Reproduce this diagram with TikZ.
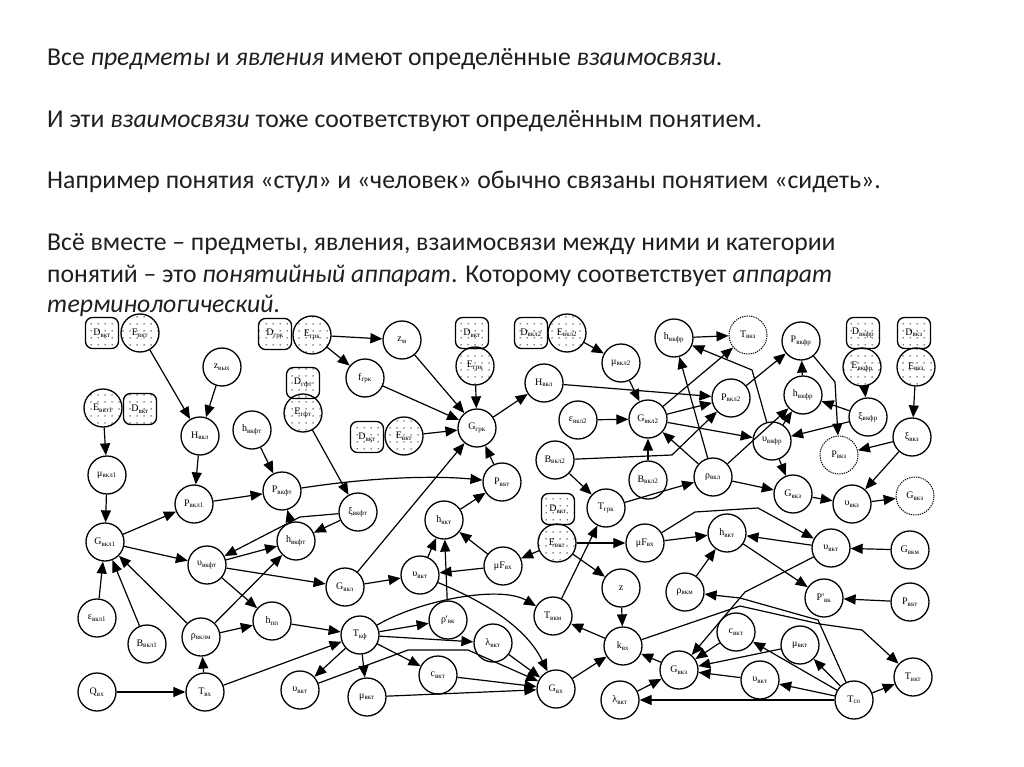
\documentclass[tikz,border=0pt]{standalone}
\usepackage{fontspec}
\setmainfont{Carlito}
\newfontfamily\lbl{Liberation Serif}
\usetikzlibrary{arrows.meta,patterns.meta}
\newcommand\sbs[1]{\textsubscript{#1}}
\begin{document}
\begin{tikzpicture}[x=1pt,y=-1pt,
  cn/.style={circle,draw,line width=1.3pt,minimum size=38pt,inner sep=0pt,font=\lbl\fontsize{10}{10}\selectfont},
  dc/.style={cn,pattern={Dots[distance=6.5pt,radius=0.7pt]}},
  db/.style={rectangle,rounded corners=7pt,draw,line width=1.3pt,minimum width=33pt,minimum height=31pt,inner sep=0pt,font=\lbl\fontsize{10}{10}\selectfont,pattern={Dots[distance=6.5pt,radius=0.7pt]}},
  lc/.style={cn,densely dotted,line width=1pt},
  ar/.style={-{Triangle[length=12pt,width=10pt]},line width=1.2pt},
  txt/.style={anchor=base west,font=\fontsize{25.7}{31}\selectfont,inner sep=0pt,text=black!88}]
\path[use as bounding box,fill=white] (0,0) rectangle (1024,767);
% text
\node[txt] (t1) at (47,66) {Все \textit{предметы} и \textit{явления} имеют определённые \textit{взаимосвязи}.};
\node[txt] (t2) at (47,128) {И эти \textit{взаимосвязи} тоже соответствуют определённым понятием.};
\node[txt] (t3) at (47,189) {Например понятия «стул» и «человек» обычно связаны понятием «сидеть».};
\node[txt] (t4) at (47,251) {Всё вместе – предметы, явления, взаимосвязи между ними и категории};
\node[txt] (t5) at (47,282) {понятий – это \textit{понятийный аппарат}. Которому соответствует \textit{аппарат}};
\node[txt] (t6) at (47,312) {\textit{терминологический}.};
% nodes left
\node[db] (D1) at (102,333) {D\sbs{вкт}};
\node[dc] (E1) at (140,333) {E\sbs{вкт}};
\node[cn] (zvy) at (222,367) {z\sbs{вых}};
\node[dc] (E2) at (103,408) {E\sbs{вкт1}};
\node[db] (D2) at (140,409) {D\sbs{вкт}};
\node[cn] (Hvk1) at (200,436) {H\sbs{вкл}};
\node[cn] (hvkft) at (252,430) {h\sbs{вкфт}};
\node[cn] (mu1) at (107,475) {μ\sbs{вкл1}};
\node[cn] (P1) at (194,504) {P\sbs{вкл1}};
\node[cn] (Pft) at (282,491) {P\sbs{вкфт}};
\node[cn] (G1) at (105,542) {G\sbs{вкл1}};
\node[cn] (uft) at (207,565) {υ\sbs{вкфт}};
\node[cn] (hft2) at (296,541) {h\sbs{вкфт}};
\node[cn] (xift) at (358,512) {ξ\sbs{вкфт}};
\node[cn] (Gmid) at (345,587) {G\sbs{вкл}};
\node[cn] (hpp) at (272,621) {h\sbs{пп}};
\node[cn] (eps1) at (97,618) {ε\sbs{вкл1}};
\node[cn] (B1) at (147,644) {B\sbs{вкл1}};
\node[cn] (rhom) at (201,637) {ρ\sbs{вклм}};
\node[cn] (Q) at (97,692) {Q\sbs{вх}};
\node[cn] (Tvx) at (205,692) {T\sbs{вх}};
% middle top
\node[db] (D3) at (275,334) {D\sbs{грк}};
\node[dc] (E3) at (312,335) {E\sbs{грк}};
\node[cn] (zm) at (402,340) {z\sbs{м}};
\node[cn] (fgrk) at (365,378) {f\sbs{грк}};
\node[db] (D4) at (303,383) {D\sbs{гфт}};
\node[dc] (E4) at (303,413) {E\sbs{гфт}};
\node[db] (D5) at (367,437) {D\sbs{вкт}};
\node[dc] (E5) at (404,436) {E\sbs{вкт}};
\node[cn] (Ggrk) at (477,428) {G\sbs{грк}};
\node[db] (D6) at (472,333) {D\sbs{вкт}};
\node[dc] (E6) at (475,366) {E\sbs{грк}};
\node[db] (D7) at (531,333) {D\sbs{вкл2}};
\node[dc] (E7) at (567,333) {E\sbs{вкл2}};
\node[cn] (mu2) at (621,363) {μ\sbs{вкл2}};
\node[cn] (H2) at (544,383) {H\sbs{вкл}};
\node[cn] (eps2) at (578,420) {ε\sbs{вкл2}};
\node[cn] (G2) at (648,419) {G\sbs{вкл2}};
\node[cn] (htop) at (674,338) {h\sbs{вкфр}};
\node[lc] (Tvkz) at (748,335) {T\sbs{вкз}};
\node[cn] (P2) at (731,398) {P\sbs{вкл2}};
\node[cn] (Pfr) at (801,341) {P\sbs{вкфр}};
\node[db] (D8) at (863,333) {D\sbs{вкфр}};
\node[dc] (E8) at (862,367) {E\sbs{вкфр}};
\node[db] (D9) at (914,333) {D\sbs{вкз}};
\node[dc] (E9) at (916,367) {E\sbs{вкз}};
\node[cn] (hfr) at (803,395) {h\sbs{вкфр}};
\node[cn] (xifr) at (868,417) {ξ\sbs{вкфр}};
\node[cn] (ufr) at (772,441) {υ\sbs{вкфр}};
\node[cn] (xiz) at (912,437) {ξ\sbs{вкз}};
\node[lc] (Pz) at (839,455) {P\sbs{вкз}};
\node[cn] (Bx) at (555,460) {B\sbs{вкл2}};
\node[cn] (B2) at (648,480) {B\sbs{вкл2}};
\node[cn] (rho) at (713,477) {ρ\sbs{вкл}};
\node[cn] (Tgrk) at (606,508) {T\sbs{грк}};
\node[cn] (Gz) at (793,494) {G\sbs{вкз}};
\node[cn] (uz) at (852,504) {υ\sbs{вкз}};
\node[lc] (Gz2) at (915,496) {G\sbs{вкз}};
\node[cn] (Pvkt) at (502,482) {P\sbs{вкт}};
\node[cn] (hvkt) at (444,520) {h\sbs{вкт}};
\node[cn] (muF) at (503,566) {μF\sbs{вх}};
\node[cn] (uvkt) at (420,575) {υ\sbs{вкт}};
\node[db] (D10) at (558,509) {D\sbs{вкт}};
\node[dc] (E10) at (557,543) {E\sbs{вкт}};
\node[cn] (muF2) at (645,543) {μF\sbs{вх}};
\node[cn] (hvkt2) at (727,533) {h\sbs{вкт}};
\node[cn] (uvkt2) at (831,548) {υ\sbs{вкт}};
\node[cn] (Gvkt) at (910,550) {G\sbs{вкм}};
\node[cn] (z) at (621,588) {z};
\node[cn] (rhovkm) at (685,592) {ρ\sbs{вкм}};
\node[cn] (Pp) at (824,598) {P'\sbs{вк}};
\node[cn] (Pvkt2) at (910,602) {P\sbs{вкт}};
\node[cn] (Tvkm) at (553,616) {T\sbs{вкм}};
\node[cn] (kvx) at (623,646) {k\sbs{вх}};
\node[cn] (cvkt2) at (736,632) {c\sbs{вкт}};
\node[cn] (muvkt2) at (800,645) {μ\sbs{вкт}};
\node[cn] (Gvkz3) at (679,670) {G\sbs{вкз}};
\node[cn] (Gvx) at (556,689) {G\sbs{вх}};
\node[cn] (lam2) at (620,700) {λ\sbs{вкт}};
\node[cn] (uvkt3) at (760,680) {υ\sbs{вкт}};
\node[cn] (Tvkt) at (913,677) {T\sbs{вкт}};
\node[cn] (Tco) at (854,700) {T\sbs{со}};
\node[cn] (Tkf) at (360,635) {T\sbs{кф}};
\node[cn] (rhop) at (448,620) {ρ'\sbs{вк}};
\node[cn] (lam) at (493,643) {λ\sbs{вкт}};
\node[cn] (cvkt) at (438,675) {c\sbs{вкт}};
\node[cn] (muvkt) at (367,697) {μ\sbs{вкт}};
\node[cn] (uvkt4) at (300,690) {υ\sbs{вкт}};
% edges left
\draw[ar] (E1) -- (Hvk1);
\draw[ar] (zvy) -- (Hvk1);
\draw[ar] (E2) -- (mu1);
\draw[ar] (Hvk1) -- (P1);
\draw[ar] (hvkft) -- (Pft);
\draw[ar] (mu1) -- (G1);
\draw[ar] (G1) -- (P1);
\draw[ar] (P1) -- (Pft);
\draw[ar] (G1) -- (uft);
\draw[ar] (uft) -- (hft2);
\draw[ar] (hft2) -- (Pft);
\draw[ar] (xift) -- (300,517) -- (uft);
\draw[ar] (xift) -- (hft2);
\draw[ar] (E4) -- (xift);
\draw[ar] (Pft) .. controls (380,476) and (440,476) .. (Pvkt);
\draw[ar] (uft) -- (Gmid);
\draw[ar] (uft) -- (hpp);
\draw[ar] (rhom) -- (hpp);
\draw[ar] (rhom) -- (hft2);
\draw[ar] (hpp) -- (Tkf);
\draw[ar] (Tvx) -- (rhom);
\draw[ar] (Q) -- (Tvx);
\draw[ar] (Tvx) -- (Tkf);
\draw[ar] (eps1) -- (G1);
\draw[ar] (B1) -- (G1);
\draw[ar] (rhom) -- (G1);
% top middle
\draw[ar] (E3) -- (zm);
\draw[ar] (E3) -- (fgrk);
\draw[ar] (zm) -- (Ggrk);
\draw[ar] (fgrk) -- (Ggrk);
\draw[ar] (E6) -- (Ggrk);
\draw[ar] (E5) -- (Ggrk);
\draw[ar] (Ggrk) -- (H2);
\draw[ar] (Gmid) -- (Ggrk);
\draw[ar] (Pvkt) -- (Ggrk);
\draw[ar] (H2) -- (P2);
\draw[ar] (E7) -- (mu2);
\draw[ar] (mu2) -- (G2);
\draw[ar] (eps2) -- (G2);
\draw[ar] (G2) -- (P2);
\draw[ar] (G2) -- (Tvkz);
\draw[ar] (htop) -- (Tvkz);
\draw[ar] (ufr) -- (752,370) -- (htop);
\draw[ar] (rho) -- (htop);
\draw[ar] (rho) -- (G2);
\draw[ar] (B2) -- (G2);
\draw[ar] (Bx) -- (672,455) -- (P2);
\draw[ar] (G2) -- (ufr);
\draw[ar] (P2) -- (Pfr);
\draw[ar] (Pfr) -- (835,382) -- (Pz);
\draw[ar] (hfr) -- (Pfr);
\draw[ar] (ufr) -- (hfr);
\draw[ar] (xifr) -- (hfr);
\draw[ar] (xifr) -- (ufr);
\draw[ar] (E8) -- (xifr);
\draw[ar] (E9) -- (xiz);
\draw[ar] (xiz) -- (Pz);
\draw[ar] (rho) -- (hfr);
\draw[ar] (xiz) -- (uz);
\draw[ar] (uz) -- (Gz2);
\draw[ar] (Gz) -- (uz);
\draw[ar] (rho) -- (Gz);
\draw[ar] (ufr) -- (Gz);
\draw[ar] (Tgrk) -- (660,492) -- (rho);
\draw[ar] (Bx) -- (Tgrk);
\draw[ar] (Tvkm) -- (Tgrk);
% right middle
\draw[ar] (muF2) -- (hvkt2);
\draw[ar] (E10) -- (muF2);
\draw[ar] (E10) -- (muF);
\draw[ar] (E10) -- (z);
\draw[ar] (muF2) -- (695,512) -- (758,508) -- (uvkt2);
\draw[ar] (uvkt2) -- (hvkt2);
\draw[ar] (Gvkt) -- (uvkt2);
\draw[ar] (hvkt2) -- (Pp);
\draw[ar] (Pvkt2) -- (Pp);
\draw[ar] (rhovkm) -- (hvkt2);
\draw[ar] (uvkt2) -- (745,592) -- (Gvkz3);
\draw[ar] (kvx) -- (740,606) -- (820,624) -- (862,630) -- (Tvkt);
\draw[ar] (Tco) -- (818,620) -- (740,598) -- (rhovkm);
\draw[ar] (Tco) -- (Tvkt);
\draw[ar] (Tco) -- (uvkt3);
\draw[ar] (Tco) -- (muvkt2);
\draw[ar] (Tco) -- (cvkt2);
\draw[ar] (Tco) -- (lam2);
\draw[ar] (cvkt2) -- (Gvkz3);
\draw[ar] (muvkt2) -- (Gvkz3);
\draw[ar] (uvkt3) -- (Gvkz3);
\draw[ar] (lam2) -- (Gvkz3);
\draw[ar] (Gvkz3) -- (kvx);
\draw[ar] (Gvx) -- (kvx);
\draw[ar] (z) -- (kvx);
\draw[ar] (kvx) -- (Tvkm);
% bottom middle
\draw[ar] (hvkt) -- (Pvkt);
\draw[ar] (muF) -- (hvkt);
\draw[ar] (muF) -- (uvkt);
\draw[ar] (uvkt) -- (hvkt);
\draw[ar] (Gmid) -- (uvkt);
\draw[ar] (rhop) -- (hvkt);
\draw[ar] (Tkf) -- (rhop);
\draw[ar] (Tkf) -- (lam);
\draw[ar] (Tkf) -- (cvkt);
\draw[ar] (Tkf) -- (muvkt);
\draw[ar] (Tkf) -- (uvkt4);
\draw[ar] (Tkf) .. controls (420,600) and (500,585) .. (Tvkm);
\draw[ar] (uvkt4) -- (408,650) -- (468,650) -- (Gvx);
\draw[ar] (lam) -- (Gvx);
\draw[ar] (cvkt) -- (Gvx);
\draw[ar] (muvkt) -- (Gvx);
\draw[ar] (uvkt) .. controls (480,600) and (525,625) .. (Gvx);
\end{tikzpicture}
\end{document}
